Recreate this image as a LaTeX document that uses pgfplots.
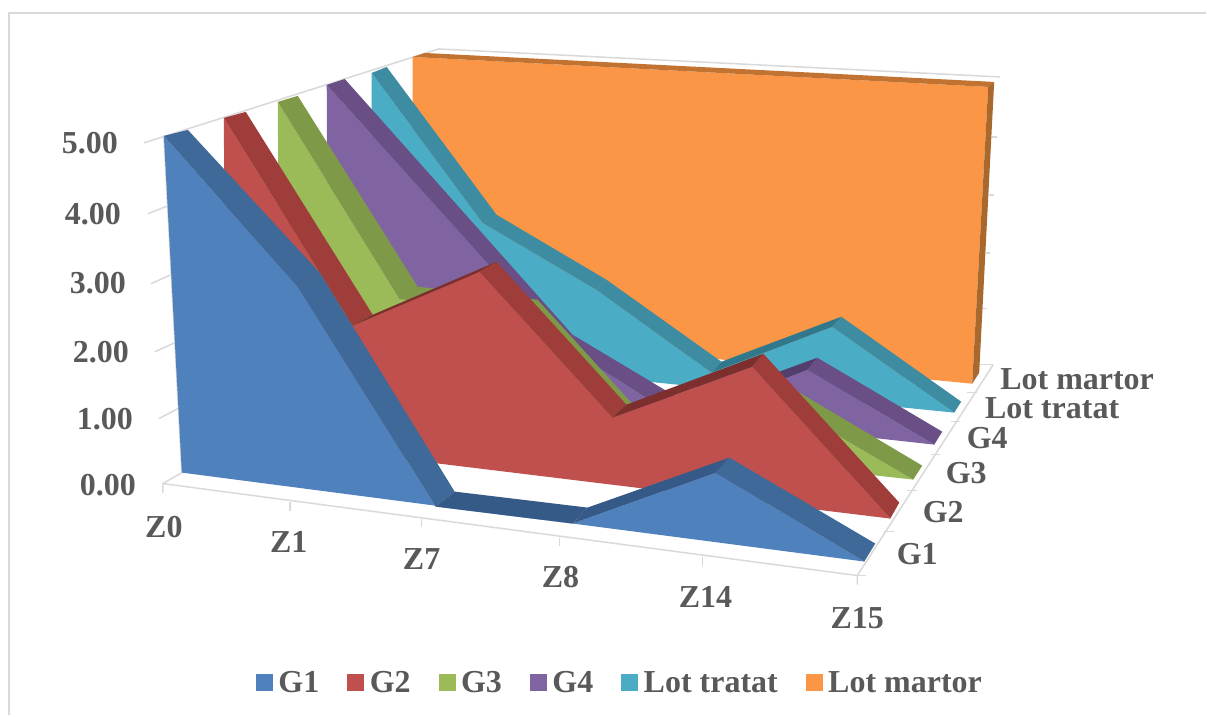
\documentclass[border=0pt]{standalone}
\usepackage{fontspec}
\setmainfont{Liberation Serif}
\usepackage{pgfplots}
\pgfplotsset{compat=1.18}

\definecolor{gridc}{HTML}{D9D9D9}
\definecolor{txt}{HTML}{595959}
\definecolor{blueF}{HTML}{4F81BD}
\definecolor{blueS}{HTML}{3F6999}
\definecolor{blueD}{HTML}{355A87}
\definecolor{redF}{HTML}{C0504D}
\definecolor{redS}{HTML}{9F3D3B}
\definecolor{redD}{HTML}{7C2F2D}
\definecolor{greenF}{HTML}{9BBB59}
\definecolor{greenS}{HTML}{7E9A48}
\definecolor{purpleF}{HTML}{8064A2}
\definecolor{purpleS}{HTML}{694F85}
\definecolor{purpleD}{HTML}{533F6E}
\definecolor{tealF}{HTML}{4BACC6}
\definecolor{tealS}{HTML}{3E8CA2}
\definecolor{tealD}{HTML}{31788C}
\definecolor{orangeF}{HTML}{FA9646}
\definecolor{orangeT}{HTML}{C27331}
\definecolor{orangeS}{HTML}{A9692C}

\pgfplotsset{
  face/.style={draw=none, fill=#1, no markers},
  side/.style={draw=none, fill=#1, no markers, forget plot},
  grid line/.style={draw=gridc, line width=1.5pt, no markers, forget plot},
}
\newcommand{\lab}[3]{\node[text=txt, font=\fontsize{32}{32}\selectfont\bfseries, inner sep=0pt] at (axis cs:#1,#2) {#3};}

\begin{document}
\begin{tikzpicture}
\begin{axis}[
  scale only axis,
  width=1207pt, height=716pt,
  xmin=0, xmax=1207, ymin=0, ymax=716,
  y dir=reverse,
  hide axis,
  clip=false,
  reverse legend,
  legend columns=6,
  legend cell align=left,
  legend image code/.code={\fill[#1] (0pt,-8.5pt) rectangle (17pt,8.5pt);},
  legend style={
    at={(axis cs:256,683)}, anchor=west,
    draw=none, fill=none, inner sep=0pt,
    text=txt, font=\fontsize{32}{32}\selectfont\bfseries,
    nodes={inner sep=0pt},
    /tikz/every odd column/.append style={column sep=5.5pt},
    /tikz/every even column/.append style={column sep=28pt},
  },
]
% page background and outer frame
\addplot[side=white] coordinates {(0,0) (1207,0) (1207,716) (0,716)};
\addplot[grid line, line width=2pt] coordinates {(9,716) (9,13) (1207,13)};

% walls and floor
\addplot[grid line] coordinates {(144,143) (439,49) (1001,77)};
\addplot[grid line] coordinates {(164,136) (182,473)};
\addplot[grid line] coordinates {(148,214) (168,206)};
\addplot[grid line] coordinates {(151,284) (171,275)};
\addplot[grid line] coordinates {(155,352) (175,343)};
\addplot[grid line] coordinates {(159,419) (178,409)};
\addplot[grid line] coordinates {(182,473) (163,484) (163,493)};
\addplot[grid line] coordinates {(163,484) (858,576) (858,585)};
\addplot[grid line] coordinates {(290,502) (290,511)};
\addplot[grid line] coordinates {(422,519) (422,527)};
\addplot[grid line] coordinates {(560,538) (560,546)};
\addplot[grid line] coordinates {(703,557) (703,566)};
\addplot[grid line] coordinates {(858,576) (994,365)};
\addplot[grid line] coordinates {(858,576) (867,576)};
\addplot[grid line] coordinates {(885,532) (895,532)};
\addplot[grid line] coordinates {(908,491) (918,491)};
\addplot[grid line] coordinates {(932,455) (941,455)};
\addplot[grid line] coordinates {(952,422) (961,422)};
\addplot[grid line] coordinates {(968,393) (978,393)};
\addplot[grid line] coordinates {(981,365) (994,365)};
\addplot[grid line] coordinates {(993,137) (998,137)};
\addplot[grid line] coordinates {(990,195) (995,195)};
\addplot[grid line] coordinates {(987,253) (991,253)};
\addplot[grid line] coordinates {(983,309) (988,309)};

% Lot martor
\addplot[face=orangeF] coordinates {(413,57) (989,87) (973,384) (413,330)};
\addlegendentry{Lot martor}
\addplot[side=orangeT] coordinates {(413,57) (425,53) (995,82) (989,87)};
\addplot[side=orangeS] coordinates {(989,87) (995,82) (980,373) (973,384)};

% Lot tratat
\addplot[face=tealF] coordinates {(372,73) (483,223) (597,290) (712,373) (833,327) (955,413) (372,354)};
\addlegendentry{Lot tratat}
\addplot[side=tealS] coordinates {(372,73) (387,67) (497,215) (483,223)};
\addplot[side=tealS] coordinates {(483,223) (497,215) (607,280) (597,290)};
\addplot[side=tealS] coordinates {(597,290) (607,280) (722,362) (712,373)};
\addplot[side=tealD] coordinates {(712,373) (722,362) (842,317) (833,327)};
\addplot[side=tealS] coordinates {(833,327) (842,317) (962,402) (955,413)};

% G4
\addplot[face=purpleF] coordinates {(327,85) (558,341) (680,420) (808,370) (935,445) (328,378)};
\addlegendentry{G4}
\addplot[side=purpleS] coordinates {(327,85) (345,79) (573,335) (558,341)};
\addplot[side=purpleS] coordinates {(558,341) (573,335) (690,405) (680,420)};
\addplot[side=purpleD] coordinates {(680,420) (690,405) (818,358) (808,370)};
\addplot[side=purpleS] coordinates {(808,370) (818,358) (943,432) (935,445)};

% G3
\addplot[face=greenF] coordinates {(278,102) (400,299) (525,315) (638,436) (770,396) (914,480) (280,410)};
\addlegendentry{G3}
\addplot[side=greenS] coordinates {(278,102) (298,96) (418,287) (400,299)};
\addplot[side=greenS] coordinates {(400,299) (418,287) (538,300) (525,315)};
\addplot[side=greenS] coordinates {(525,315) (538,300) (650,423) (638,436)};
\addplot[side=greenS] coordinates {(638,436) (650,423) (780,381) (770,396)};
\addplot[side=greenS] coordinates {(770,396) (780,381) (923,466) (914,480)};

% G2
\addplot[face=redF] coordinates {(224,118) (353,326) (480,272) (613,418) (753,367) (891,519) (226,438)};
\addlegendentry{G2}
\addplot[side=redS] coordinates {(224,118) (246,112) (373,315) (353,326)};
\addplot[side=redD] coordinates {(353,326) (373,315) (497,262) (480,272)};
\addplot[side=redS] coordinates {(480,272) (497,262) (627,405) (613,418)};
\addplot[side=redD] coordinates {(613,418) (627,405) (764,354) (753,367)};
\addplot[side=redS] coordinates {(753,367) (764,354) (900,503) (891,519)};

% G1
\addplot[face=blueF] coordinates {(164,136) (298,287) (436,507) (573,524) (716,473) (865,562) (182,473)};
\addlegendentry{G1}
\addplot[side=blueS] coordinates {(164,136) (188,130) (320,273) (298,287)};
\addplot[side=blueS] coordinates {(298,287) (320,273) (455,492) (436,507)};
\addplot[side=blueD] coordinates {(436,507) (455,492) (588,508) (573,524)};
\addplot[side=blueD] coordinates {(573,524) (588,508) (730,458) (716,473)};
\addplot[side=blueS] coordinates {(716,473) (730,458) (876,544) (865,562)};

% value axis
\lab{90}{143}{5.00}
\lab{93}{214}{4.00}
\lab{98}{283}{3.00}
\lab{101}{352}{2.00}
\lab{105}{419}{1.00}
\lab{108}{485}{0.00}
% category axis
\lab{164}{527}{Z0}
\lab{289}{542}{Z1}
\lab{422}{559}{Z7}
\lab{561}{577}{Z8}
\lab{706}{597}{Z14}
\lab{858}{619}{Z15}
% series axis
\lab{918}{555}{G1}
\lab{944}{512}{G2}
\lab{967}{473}{G3}
\lab{988}{438}{G4}
\lab{1053}{409}{Lot tratat}
\lab{1078}{379}{Lot martor}
\end{axis}
\end{tikzpicture}
\end{document}
